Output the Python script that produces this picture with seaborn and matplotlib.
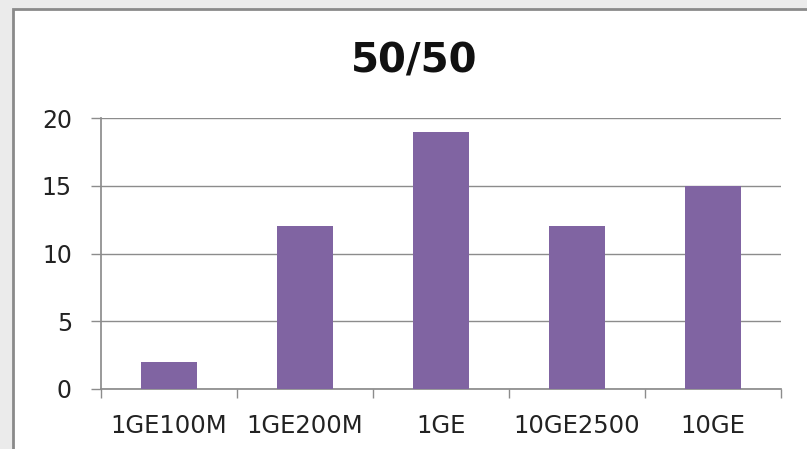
import matplotlib
matplotlib.use("Agg")
import matplotlib.pyplot as plt
import seaborn as sns
import pandas as pd
from matplotlib.patches import Rectangle

categories = ["1GE100M", "1GE200M", "1GE", "10GE2500", "10GE"]
values = [2, 12, 19, 12, 15]
yticks = [0, 5, 10, 15, 20]
title = "50/50"

sns.set_theme(style="white")
plt.rcParams["font.family"] = ["DejaVu Sans"]

W, H = 807, 449
PX = 72 / 100  # points per pixel
fig = plt.figure(figsize=(W / 100, H / 100), dpi=100)
fig.patch.set_facecolor("#ebebeb")
# white chart panel with grey border
fig.patches.append(Rectangle((13 / W, -10 / H), (W - 13 + 10) / W, (H - 9 + 10) / H,
                             transform=fig.transFigure, facecolor="white",
                             edgecolor="#8a8a8a", linewidth=2, zorder=-5))

ax = fig.add_axes([101 / W, (H - 389) / H, (781 - 101) / W, (389 - 118) / H])
ax.set_zorder(2)
df = pd.DataFrame({"cat": categories, "val": values})
sns.barplot(data=df, x="cat", y="val", color="#8064A2", width=0.41,
            saturation=1, ax=ax, zorder=3, linewidth=0, edgecolor="none")

ax.set_ylim(0, 20)
ax.set_xlim(-0.5, len(categories) - 0.5)
ax.set_yticks(yticks)
ax.set_yticklabels([str(t) for t in yticks], fontsize=17, color="#222222")
ax.set_xlabel("")
ax.set_ylabel("")
ax.set_facecolor("white")
for t in yticks:
    ax.axhline(t, color="#8c8c8c", linewidth=1, zorder=1)
for s in ["top", "right"]:
    ax.spines[s].set_visible(False)
ax.spines["left"].set_color("#8c8c8c")
ax.spines["bottom"].set_color("#8c8c8c")
ax.tick_params(axis="y", left=True, length=10 * PX, color="#8c8c8c",
               pad=19 * PX, width=1)

# x ticks at category boundaries, labels centered on categories
ax.set_xticks([i - 0.5 for i in range(len(categories) + 1)])
ax.set_xticklabels([])
ax.tick_params(axis="x", bottom=True, length=9 * PX, color="#8c8c8c", width=1)
ax.set_xticks(range(len(categories)), minor=True)
ax.set_xticklabels(categories, minor=True, fontsize=17.5, color="#222222")
ax.tick_params(axis="x", which="minor", length=0, pad=25 * PX)

fig.text(414 / W, 1 - 72 / H, title, ha="center", va="baseline",
         fontsize=29, fontweight="bold", color="#111111")

fig.savefig("out.png", dpi=100, facecolor=fig.get_facecolor())
